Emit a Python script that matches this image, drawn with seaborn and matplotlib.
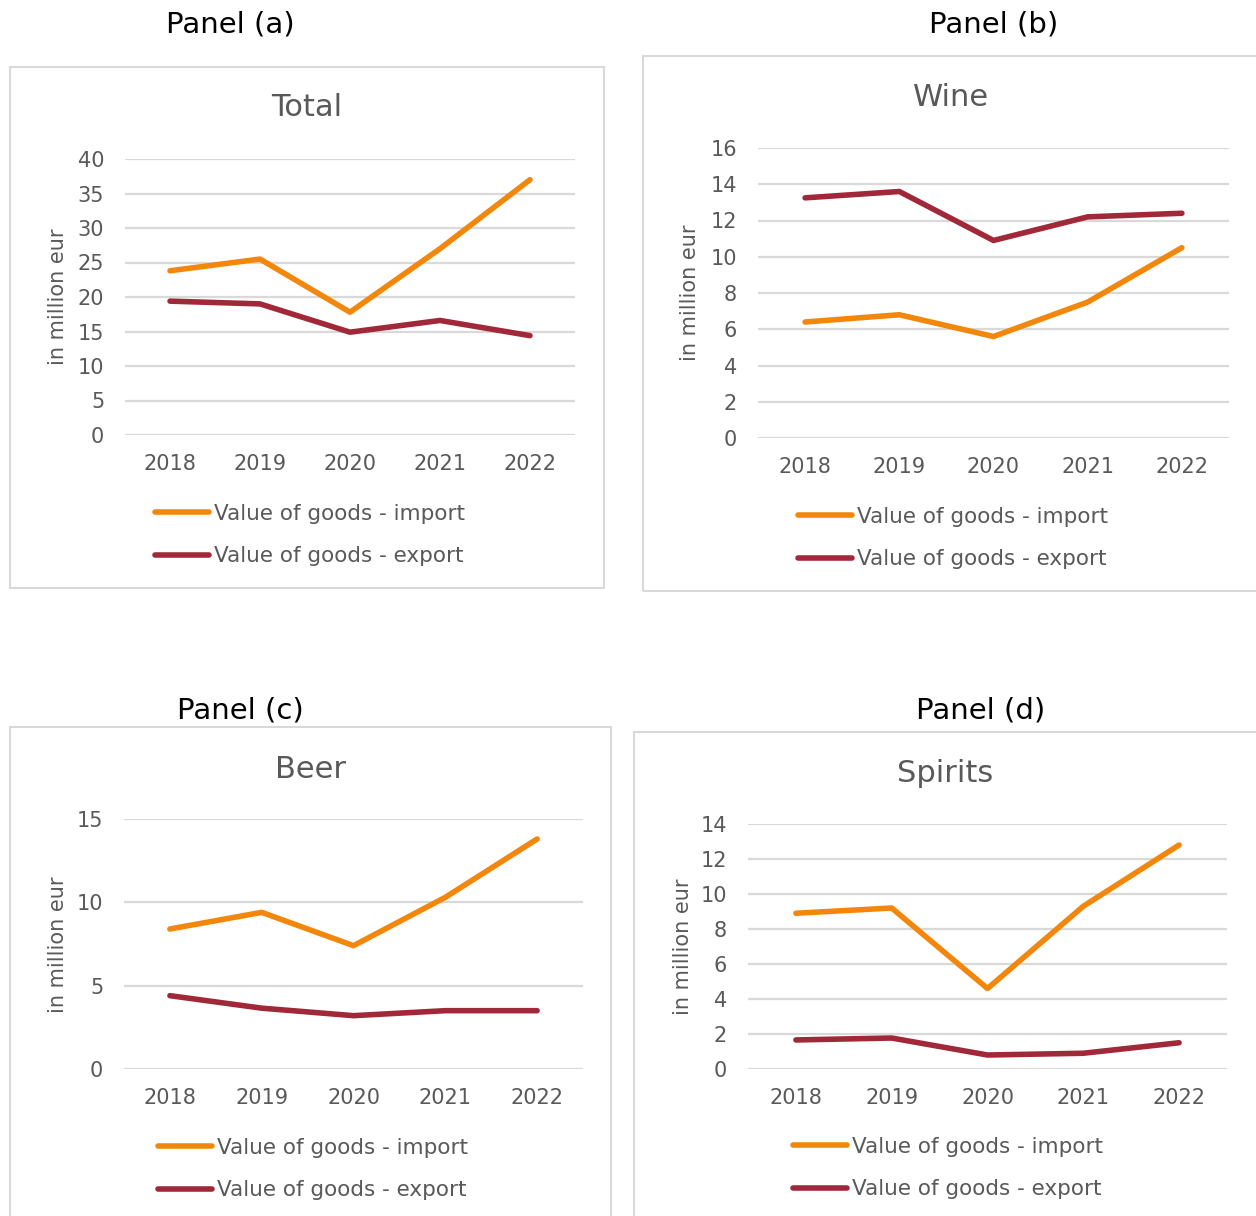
import matplotlib
matplotlib.use("Agg")
import matplotlib.pyplot as plt
from matplotlib.patches import Rectangle
import numpy as np
import pandas as pd
import seaborn as sns

# ---------------- data ----------------
years = [2018, 2019, 2020, 2021, 2022]
series_names = ["Value of goods - import", "Value of goods - export"]

total_import = [23.8, 25.5, 17.8, 27.0, 37.0]
total_export = [19.4, 19.0, 14.9, 16.6, 14.4]

wine_import = [6.4, 6.8, 5.6, 7.5, 10.5]
wine_export = [13.25, 13.6, 10.9, 12.2, 12.4]

beer_import = [8.4, 9.4, 7.4, 10.3, 13.8]
beer_export = [4.4, 3.65, 3.2, 3.5, 3.5]

spirits_import = [8.9, 9.2, 4.6, 9.3, 12.8]
spirits_export = [1.66, 1.77, 0.8, 0.9, 1.5]

panel_labels = ["Panel (a)", "Panel (b)", "Panel (c)", "Panel (d)"]
panel_titles = ["Total", "Wine", "Beer", "Spirits"]
y_label = "in million eur"
y_max = [40, 16, 15, 14]
y_step = [5, 2, 5, 2]

# ---------------- style ----------------
sns.set_theme(style="white")
plt.rcParams["font.family"] = ["DejaVu Sans"]

ORANGE = "#F2870C"
DARKRED = "#A02838"
GRID = "#D9D9D9"
TXT = "#595959"

W, H = 1256, 1216
fig = plt.figure(figsize=(W / 100, H / 100), dpi=100)
fig.patch.set_facecolor("white")

def fx(px):
    return px / W

def fy(py):
    return 1 - py / H

# layout (pixels): axes box, frame box, label pos, title pos, ylabel pos, legend anchor
layouts = [
    dict(ax=(125, 159, 575, 435), box=(10, 67, 604, 588), lab=(230, 25), tit=(307, 108),
         yl=(58, 297), leg=(155, 535)),
    dict(ax=(758, 148, 1229, 438), box=(643, 56, 1262, 591), lab=(994, 25), tit=(951, 97),
         yl=(690, 293), leg=(798, 538)),
    dict(ax=(124, 819, 583, 1069), box=(10, 727, 611, 1225), lab=(240, 710), tit=(311, 769),
         yl=(58, 945), leg=(158, 1169)),
    dict(ax=(748, 824, 1227, 1069), box=(634, 732, 1262, 1225), lab=(981, 711), tit=(945, 773),
         yl=(683, 947), leg=(793, 1168)),
]

data_sets = [
    (total_import, total_export),
    (wine_import, wine_export),
    (beer_import, beer_export),
    (spirits_import, spirits_export),
]

for i, (lay, (imp, exp)) in enumerate(zip(layouts, data_sets)):
    bx0, by0, bx1, by1 = lay["box"]
    fig.patches.append(Rectangle((fx(bx0), fy(by1)), fx(bx1 - bx0), (by1 - by0) / H,
                                 transform=fig.transFigure, fill=False,
                                 edgecolor=GRID, linewidth=1.5, zorder=0))

    x0, y0, x1, y1 = lay["ax"]
    ax = fig.add_axes([fx(x0), fy(y1), fx(x1 - x0), (y1 - y0) / H])
    ax.set_facecolor("none")

    df = pd.DataFrame({
        "year": years * 2,
        "value": list(imp) + list(exp),
        "series": [series_names[0]] * len(years) + [series_names[1]] * len(years),
    })
    sns.lineplot(data=df, x="year", y="value", hue="series", hue_order=series_names,
                 palette=[ORANGE, DARKRED], linewidth=4.0, ax=ax, legend=False,
                 solid_capstyle="round", solid_joinstyle="round", clip_on=False, zorder=3)

    ax.set_xlim(2017.5, 2022.5)
    ax.set_ylim(0, y_max[i])
    ax.set_xticks(years)
    ax.set_xticklabels([str(y) for y in years])
    ax.set_yticks(np.arange(0, y_max[i] + y_step[i] / 2, y_step[i]))
    ax.grid(axis="y", color=GRID, linewidth=1.6, zorder=0)
    ax.grid(axis="x", visible=False)
    for s in ax.spines.values():
        s.set_visible(False)
    ax.tick_params(axis="y", length=0, pad=15, labelsize=15, labelcolor=TXT)
    ax.tick_params(axis="x", length=0, pad=14, labelsize=15, labelcolor=TXT)
    ax.set_xlabel("")
    ax.set_ylabel("")

    handles = ax.get_lines()[:2]
    leg = ax.legend(handles, series_names, loc="center left",
                    bbox_to_anchor=(fx(lay["leg"][0]), fy(lay["leg"][1])),
                    bbox_transform=fig.transFigure, frameon=False, borderpad=0,
                    borderaxespad=0, handlelength=2.5, handletextpad=0.22,
                    labelspacing=1.05, fontsize=15.5, labelcolor=TXT)

    fig.text(fx(lay["lab"][0]), fy(lay["lab"][1]), panel_labels[i], ha="center", va="center",
             fontsize=21, color="black")
    fig.text(fx(lay["tit"][0]), fy(lay["tit"][1]), panel_titles[i], ha="center", va="center",
             fontsize=22, color=TXT)
    fig.text(fx(lay["yl"][0]), fy(lay["yl"][1]), y_label, ha="center", va="center",
             rotation=90, fontsize=15, color=TXT)

fig.savefig("out.png", dpi=100)
